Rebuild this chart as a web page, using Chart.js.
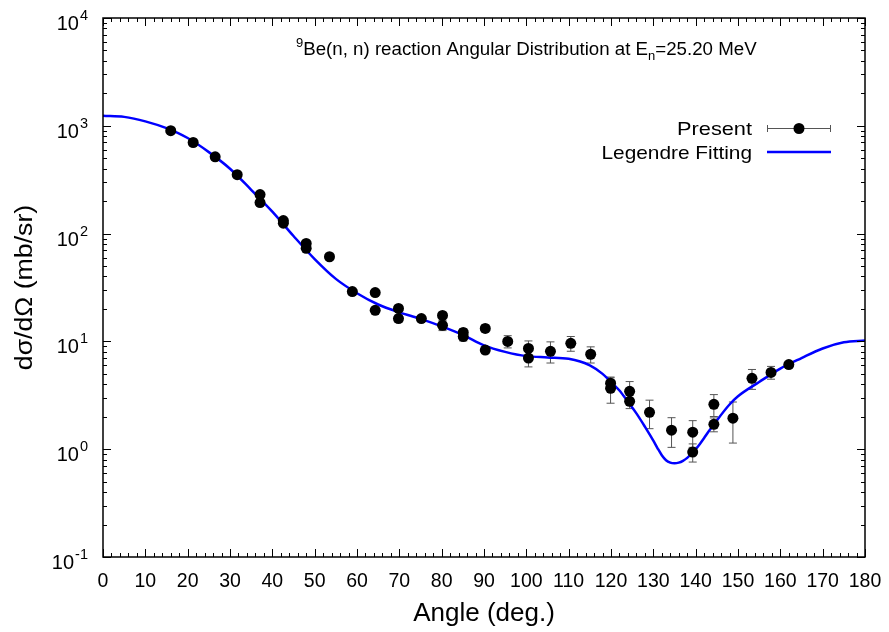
<!DOCTYPE html>
<html>
<head>
<meta charset="utf-8">
<script src="https://cdn.jsdelivr.net/npm/chart.js@4/dist/chart.umd.min.js"></script>
<style>
  html, body { margin: 0; padding: 0; background: #fff; }
  #wrap { width: 889px; height: 632px; }
</style>
</head>
<body>
<div id="wrap"><canvas id="angChart" width="889" height="632"></canvas></div>
<script>
// measured points (Present)
const presentAngles = [16.0, 21.3, 26.5, 31.7, 37.1, 37.1, 42.6, 42.6, 48.0, 48.0, 53.5, 58.9, 64.3, 64.3,
  69.8, 69.8, 75.2, 80.2, 80.2, 85.1, 85.1, 90.3, 90.3, 95.6, 100.5, 100.5, 105.7, 110.5, 115.2,
  119.9, 119.9, 124.4, 124.4, 129.1, 134.3, 139.3, 139.3, 144.3, 144.3, 148.8, 153.3, 157.8, 162.0];
const presentValues = [900, 700, 515, 352, 230, 194, 132, 125, 81, 73, 61, 29, 28.4, 19.4,
  20.2, 16.3, 16.3, 17.4, 14.1, 12.1, 11.1, 13.2, 8.3, 10.0, 8.6, 7.0, 8.1, 9.6, 7.6,
  4.1, 3.67, 3.44, 2.78, 2.2, 1.5, 1.44, 0.94, 2.61, 1.70, 1.94, 4.54, 5.16, 6.1];
const presentErrors = [30, 25, 18, 12, 9, 8, 5, 5, 3, 3, 2.5, 1.2, 1.2, 1.0,
  1.2, 1.2, 1.0, 1.2, 1.5, 1.0, 1.0, 1.0, 0.6, 1.3, 1.5, 1.2, 1.8, 1.5, 1.3,
  0.5, 1.0, 0.8, 0.4, 0.65, 0.46, 0.4, 0.18, 0.6, 0.25, 0.8, 0.95, 0.7, 0.4];

// Legendre fit curve
const fitAngles = [0, 5, 10, 15, 20, 25, 30, 35, 40, 45, 50, 55, 60, 65, 70, 75, 80, 85, 90, 95,
  100, 105, 110, 115, 118, 120, 122, 124, 126, 128, 130, 131, 132, 133, 134, 135, 136, 137, 138,
  139, 140, 141, 142, 143, 144, 145, 148, 150, 155, 160, 165, 170, 175, 180];
const fitValues = [1240, 1210, 1100, 950, 770, 570, 400, 255, 160, 95, 58, 38, 28, 22, 18.6, 16.2, 13.8, 11.5, 9.2, 8.0,
  7.3, 7.1, 6.9, 6.0, 5.0, 4.2, 3.5, 2.75, 2.15, 1.62, 1.2, 1.02, 0.88, 0.79, 0.75, 0.74, 0.75, 0.78, 0.83,
  0.91, 1.0, 1.12, 1.27, 1.45, 1.63, 1.85, 2.6, 3.1, 4.2, 5.6, 7.0, 8.6, 9.8, 10.2];

const xTicks = [0, 10, 20, 30, 40, 50, 60, 70, 80, 90, 100, 110, 120, 130, 140, 150, 160, 170, 180];
const yExponents = [-1, 0, 1, 2, 3, 4];

const FONT = '"Liberation Sans", Arial, sans-serif';

const presentData = presentAngles.map((a, i) => ({ x: a, y: presentValues[i] }));
const fitData = fitAngles.map((a, i) => ({ x: a, y: fitValues[i] }));

// text drawn a little wider, like the original
function wideText(ctx, str, x, y, size, align, sx) {
  ctx.save();
  ctx.translate(x, y);
  ctx.scale(sx, 1);
  ctx.font = size + 'px ' + FONT;
  ctx.textAlign = align;
  ctx.fillText(str, 0, 0);
  ctx.restore();
}

const errorBars = {
  id: 'errorBars',
  beforeDatasetsDraw(chart) {
    const ctx = chart.ctx;
    const xs = chart.scales.x, ys = chart.scales.y;
    ctx.save();
    ctx.strokeStyle = '#555';
    ctx.lineWidth = 1;
    presentAngles.forEach((a, i) => {
      const px = xs.getPixelForValue(a);
      const top = ys.getPixelForValue(presentValues[i] + presentErrors[i]);
      const bot = ys.getPixelForValue(Math.max(presentValues[i] - presentErrors[i], 0.11));
      ctx.beginPath();
      ctx.moveTo(px, top); ctx.lineTo(px, bot);
      ctx.moveTo(px - 4, top); ctx.lineTo(px + 4, top);
      ctx.moveTo(px - 4, bot); ctx.lineTo(px + 4, bot);
      ctx.stroke();
    });
    ctx.restore();
  }
};

const frameAndText = {
  id: 'frameAndText',
  afterDraw(chart) {
    const ctx = chart.ctx;
    const a = chart.chartArea;
    const xs = chart.scales.x, ys = chart.scales.y;
    ctx.save();
    ctx.strokeStyle = '#000';
    ctx.lineWidth = 1.5;
    ctx.strokeRect(a.left, a.top, a.right - a.left, a.bottom - a.top);

    // inward ticks, mirrored on top and right
    ctx.lineWidth = 1;
    ctx.beginPath();
    for (let d = 0; d <= 180; d += 2) {
      const px = Math.round(xs.getPixelForValue(d)) + 0.5;
      const len = d % 10 === 0 ? 8 : 4;
      ctx.moveTo(px, a.bottom); ctx.lineTo(px, a.bottom - len);
      ctx.moveTo(px, a.top); ctx.lineTo(px, a.top + len);
    }
    for (let e = -1; e <= 4; e++) {
      for (let m = 1; m <= 9; m++) {
        if (e === 4 && m > 1) break;
        const py = Math.round(ys.getPixelForValue(m * Math.pow(10, e))) + 0.5;
        const len = m === 1 ? 8 : 4;
        ctx.moveTo(a.left, py); ctx.lineTo(a.left + len, py);
        ctx.moveTo(a.right, py); ctx.lineTo(a.right - len, py);
      }
    }
    ctx.stroke();

    ctx.fillStyle = '#000';
    ctx.textBaseline = 'alphabetic';

    // x tick labels
    xTicks.forEach(d => {
      wideText(ctx, String(d), xs.getPixelForValue(d), 587, 19.5, 'center', 1);
    });

    // y tick labels 10^n
    yExponents.forEach(e => {
      const py = ys.getPixelForValue(Math.pow(10, e));
      ctx.font = '14.5px ' + FONT;
      const expStr = String(e);
      const ew = ctx.measureText(expStr).width;
      wideText(ctx, expStr, 88 - ew, py + 2, 14.5, 'left', 1);
      wideText(ctx, '10', 88 - ew - 1, py + 12, 20, 'right', 1);
    });

    // axis titles
    wideText(ctx, 'Angle (deg.)', (a.left + a.right) / 2, 621, 26, 'center', 1);
    ctx.save();
    ctx.translate(26, (a.top + a.bottom) / 2);
    ctx.rotate(-Math.PI / 2);
    ctx.textBaseline = 'middle';
    wideText(ctx, 'd\u03c3/d\u03a9 (mb/sr)', 0, 0, 23, 'center', 1.16);
    ctx.restore();

    // title with super/subscripts
    let tx = 296;
    const base = 55;
    const parts = [
      ['9', 13, -8], ['Be(n, n) reaction Angular Distribution at E', 18.7, 0],
      ['n', 13, 5], ['=25.20 MeV', 18.7, 0]
    ];
    ctx.textAlign = 'left';
    parts.forEach(p => {
      ctx.font = p[1] + 'px ' + FONT;
      ctx.fillText(p[0], tx, base + p[2]);
      tx += ctx.measureText(p[0]).width;
    });

    // legend
    wideText(ctx, 'Present', 752, 135, 18.6, 'right', 1.17);
    wideText(ctx, 'Legendre Fitting', 752, 159, 18.6, 'right', 1.12);
    ctx.strokeStyle = '#555';
    ctx.lineWidth = 1;
    ctx.beginPath();
    ctx.moveTo(767, 128.5); ctx.lineTo(831, 128.5);
    ctx.moveTo(767.5, 125); ctx.lineTo(767.5, 132);
    ctx.moveTo(830.5, 125); ctx.lineTo(830.5, 132);
    ctx.stroke();
    ctx.fillStyle = '#000';
    ctx.beginPath();
    ctx.arc(799, 128.5, 5.5, 0, Math.PI * 2);
    ctx.fill();
    ctx.strokeStyle = '#0000ff';
    ctx.lineWidth = 2.5;
    ctx.beginPath();
    ctx.moveTo(767, 152); ctx.lineTo(831, 152);
    ctx.stroke();
    ctx.restore();
  }
};

new Chart(document.getElementById('angChart').getContext('2d'), {
  type: 'scatter',
  data: {
    datasets: [{
      label: 'Present',
      data: presentData,
      showLine: false,
      pointRadius: 5.5,
      pointBackgroundColor: '#000',
      pointBorderWidth: 0
    }, {
      label: 'Legendre Fitting',
      data: fitData,
      showLine: true,
      pointRadius: 0,
      borderColor: '#0000ff',
      borderWidth: 2.5,
      cubicInterpolationMode: 'monotone'
    }]
  },
  options: {
    responsive: false,
    animation: false,
    layout: { padding: { top: 18, right: 24, left: 0, bottom: 0 } },
    plugins: { legend: { display: false }, tooltip: { enabled: false } },
    scales: {
      x: {
        type: 'linear', min: 0, max: 180,
        grid: { display: false }, border: { display: false },
        ticks: { display: false },
        afterFit(s) { s.height = 75; }
      },
      y: {
        type: 'logarithmic', min: 0.1, max: 10000,
        grid: { display: false }, border: { display: false },
        ticks: { display: false },
        afterFit(s) { s.width = 103; }
      }
    }
  },
  plugins: [errorBars, frameAndText]
});
</script>
</body>
</html>
